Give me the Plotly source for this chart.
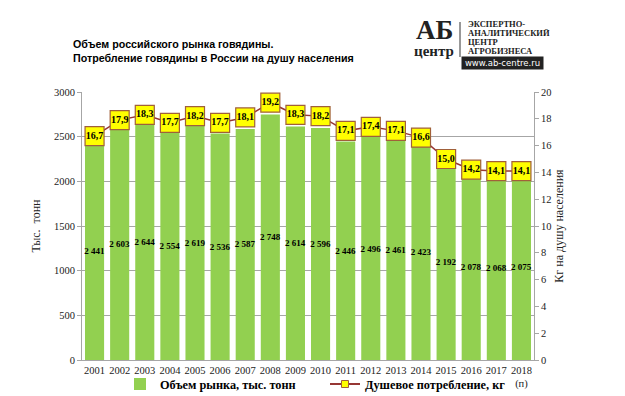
import plotly.graph_objects as go

years = ["2001", "2002", "2003", "2004", "2005", "2006", "2007", "2008", "2009",
         "2010", "2011", "2012", "2013", "2014", "2015", "2016", "2017", "2018"]
year_ticks = years[:-1] + ["2018<br>(п)"]
market_volume = [2441, 2603, 2644, 2554, 2619, 2536, 2587, 2748, 2614,
                 2596, 2446, 2496, 2461, 2423, 2192, 2078, 2068, 2075]
per_capita = [16.7, 17.9, 18.3, 17.7, 18.2, 17.7, 18.1, 19.2, 18.3,
              18.2, 17.1, 17.4, 17.1, 16.6, 15.0, 14.2, 14.1, 14.1]

SERIF = "Liberation Serif, Times New Roman, serif"
SANS = "Liberation Sans, Arial, sans-serif"

bar_text = [f"{v:,}".replace(",", " ") for v in market_volume]
pc_text = [f"{v:.1f}".replace(".", ",") for v in per_capita]

LINE_COLOR = "#963634"
BOX_FILL = "#FFFF00"
BOX_EDGE = "#A0603A"

# the page body adds an 8px offset; positions below are in screen pixels
OFF = 8
W, H = 625, 396
PL, PR, PT, PB = 82, 534, 92, 360          # plot box on screen
L, T = PL - OFF, PT - OFF
R, B = W - (PR - OFF), H - (PB - OFF)
PW, PH = PR - PL, PB - PT


def px(x):
    return (x - PL) / PW


def py(y):
    return (PB - y) / PH


fig = go.Figure()
fig.add_trace(go.Bar(
    x=years, y=market_volume, name="Объем рынка, тыс. тонн",
    marker=dict(color="#92D050", line=dict(width=0)),
    text=bar_text, textposition="inside", insidetextanchor="middle",
    constraintext="none", textangle=0,
    textfont=dict(family=SERIF, size=9, color="black", weight="bold"),
    hoverinfo="skip",
))
fig.add_trace(go.Scatter(
    x=years, y=per_capita, name="Душевое потребление, кг", yaxis="y2",
    mode="lines+markers+text", showlegend=False,
    line=dict(color=LINE_COLOR, width=1.5),
    marker=dict(symbol="square", size=19, color=BOX_FILL,
                line=dict(color=BOX_EDGE, width=1.2)),
    text=pc_text, textposition="middle center",
    textfont=dict(family=SERIF, size=10, color="black", weight="bold"),
    cliponaxis=False,
    hoverinfo="skip",
))
# legend entry for the per-capita series (small marker like the original legend)
fig.add_trace(go.Scatter(
    x=[None], y=[None], name="Душевое потребление, кг", yaxis="y2",
    mode="lines+markers",
    line=dict(color=LINE_COLOR, width=2),
    marker=dict(symbol="square", size=7, color=BOX_FILL,
                line=dict(color=BOX_EDGE, width=1)),
    hoverinfo="skip",
))

# title
fig.add_annotation(
    xref="paper", yref="paper", x=px(71), y=py(51), xanchor="left", yanchor="middle",
    align="left", showarrow=False,
    text="<b>Объем российского рынка говядины.<br>Потребление говядины в России на душу населения</b>",
    font=dict(family=SANS, size=10.7, color="black"),
)

# logo
fig.add_annotation(
    xref="paper", yref="paper", x=px(434), y=py(30), xanchor="center", yanchor="middle",
    showarrow=False, text="<b>АБ</b>",
    font=dict(family=SERIF, size=27, color="#222222"),
)
fig.add_annotation(
    xref="paper", yref="paper", x=px(434), y=py(51), xanchor="center", yanchor="middle",
    showarrow=False, text="<b>центр</b>",
    font=dict(family=SERIF, size=15, color="#222222"),
)
fig.add_shape(type="line", xref="paper", yref="paper",
              x0=px(460), x1=px(460), y0=py(22), y1=py(57),
              line=dict(color="#333333", width=1))
for txt, yy in [("ЭКСПЕРТНО-", 24), ("АНАЛИТИЧЕСКИЙ", 33), ("ЦЕНТР", 42), ("АГРОБИЗНЕСА", 51)]:
    fig.add_annotation(
        xref="paper", yref="paper", x=px(466), y=py(yy), xanchor="left", yanchor="middle",
        showarrow=False, text=f"<b>{txt}</b>",
        font=dict(family=SERIF, size=8.5, color="#222222"),
    )
fig.add_annotation(
    xref="paper", yref="paper", x=px(502.5), y=py(62.5), xanchor="center", yanchor="middle",
    showarrow=False, text="www.ab-centre.ru",
    font=dict(family="DejaVu Sans, sans-serif", size=8.5, color="white"),
    bgcolor="#222222", borderpad=1, width=79, height=10,
)

fig.update_layout(
    width=W, height=H,
    margin=dict(l=L, r=R, t=T, b=B, autoexpand=False),
    paper_bgcolor="white", plot_bgcolor="white",
    bargap=0.24,
    showlegend=True,
    legend=dict(orientation="h", xref="container", yref="container",
                x=(120 - OFF) / W, y=1 - (384 - OFF) / H, xanchor="left", yanchor="middle",
                font=dict(family=SERIF, size=12.3, color="black", weight="bold"),
                itemwidth=30, entrywidth=160,
                tracegroupgap=0, bgcolor="rgba(0,0,0,0)"),
    xaxis=dict(
        type="category", tickmode="array", tickvals=years, ticktext=year_ticks,
        range=[-0.5, 17.5], showline=True, linecolor="#A6A6A6", linewidth=1,
        ticks="", tickfont=dict(family=SERIF, size=10.5, color="#222222"),
        showgrid=False, automargin=False,
    ),
    yaxis=dict(
        range=[0, 3000], dtick=500, showgrid=True, gridcolor="#A6A6A6", gridwidth=1,
        showline=True, linecolor="#A6A6A6", linewidth=1, ticks="outside", ticklen=4,
        tickcolor="#A6A6A6", tickfont=dict(family=SERIF, size=10.5, color="#222222"),
        title=dict(text="Тыс.  тонн", font=dict(family=SERIF, size=12, color="#222222"),
                   standoff=10),
        zeroline=False, automargin=False,
    ),
    yaxis2=dict(
        range=[0, 20], dtick=2, overlaying="y", side="right", showgrid=False,
        showline=True, linecolor="#A6A6A6", linewidth=1, ticks="outside", ticklen=4,
        tickcolor="#A6A6A6", tickfont=dict(family=SERIF, size=10.5, color="#222222"),
        title=dict(text="Кг на душу населения",
                   font=dict(family=SERIF, size=12, color="#222222"), standoff=0),
        zeroline=False, automargin=False,
    ),
)

fig.write_html("out.html")
